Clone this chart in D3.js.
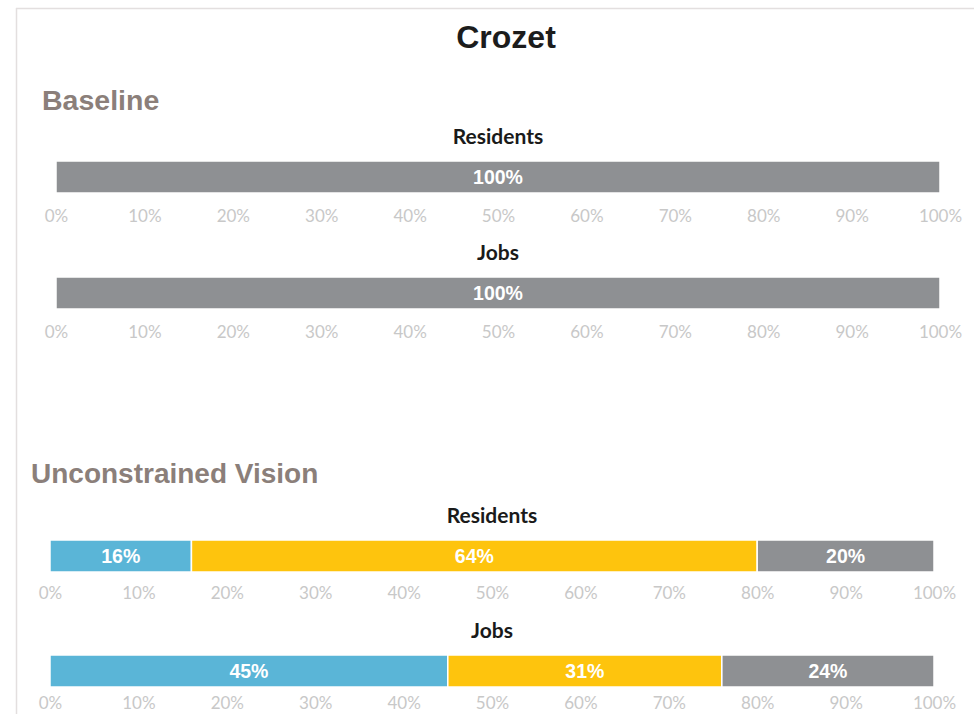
<!DOCTYPE html>
<html>
<head>
<meta charset="utf-8">
<script src="https://cdn.jsdelivr.net/npm/d3@7"></script>
<style>
  html, body { margin: 0; padding: 0; background: #ffffff; }
  svg { display: block; }
</style>
</head>
<body>
<script>
// Share of residents and jobs by area type, per scenario
const scenarios = ["Baseline", "Unconstrained Vision"];
const measures = ["Residents", "Jobs"];
const segmentNames = ["Centers", "Corridors", "Remainder"];
const baselineResidents = [0, 0, 100];
const baselineJobs = [0, 0, 100];
const visionResidents = [16, 64, 20];
const visionJobs = [45, 31, 24];
const tickValues = [0, 10, 20, 30, 40, 50, 60, 70, 80, 90, 100];
const tickLabels = ["0%", "10%", "20%", "30%", "40%", "50%", "60%", "70%", "80%", "90%", "100%"];
const chartTitle = "Crozet";

const segmentColors = ["#5ab5d7", "#fec40d", "#8e9093"];

const W = 974, H = 714;
const svg = d3.select("body").append("svg").attr("width", W).attr("height", H);

// light frame along top and left
svg.append("line").attr("x1", 16).attr("x2", W).attr("y1", 8.5).attr("y2", 8.5)
  .attr("stroke", "#e3dfdf").attr("stroke-width", 1.5);
svg.append("line").attr("x1", 16.5).attr("x2", 16.5).attr("y1", 8).attr("y2", H)
  .attr("stroke", "#e3dfdf").attr("stroke-width", 1.5);

const headFont = "'Liberation Sans Narrow', 'Arial Narrow', 'Liberation Sans', sans-serif";

svg.append("text").attr("x", 506).attr("y", 48)
  .attr("text-anchor", "middle")
  .style("font-family", headFont).style("font-size", "32px").style("font-weight", "bold")
  .style("fill", "#1c1c1c").text(chartTitle);

const panels = [
  { name: scenarios[0], data: [baselineResidents, baselineJobs], headX: 42, headY: 110, headSize: 28.5, range: [56, 940], barTops: [161, 277], tickGaps: [29, 29] },
  { name: scenarios[1], data: [visionResidents, visionJobs], headX: 31, headY: 483, headSize: 28, range: [50, 934], barTops: [540, 655], tickGaps: [27, 22] }
];

const barH = 32;

panels.forEach(p => {
  const x = d3.scaleLinear().domain([0, 100]).range(p.range);
  const cx = (p.range[0] + p.range[1]) / 2;

  svg.append("text").attr("x", p.headX).attr("y", p.headY)
    .style("font-family", headFont).style("font-size", p.headSize + "px").style("font-weight", "bold")
    .style("fill", "#8b7f7a").text(p.name);

  p.data.forEach((vals, i) => {
    const top = p.barTops[i];
    const g = svg.append("g");

    g.append("text").attr("x", cx).attr("y", top - 17)
      .attr("text-anchor", "middle")
      .style("font-family", "Lato, 'Open Sans', sans-serif").style("font-size", "21px").style("font-weight", "bold")
      .style("fill", "#1a1a1a").text(measures[i]);

    // stacked segments
    let acc = 0;
    const segs = vals.map((v, k) => { const s = { k, v, start: acc }; acc += v; return s; })
      .filter(s => s.v > 0);

    g.selectAll("rect.seg").data(segs).join("rect")
      .attr("class", "seg")
      .attr("x", s => x(s.start))
      .attr("y", top)
      .attr("width", s => x(s.start + s.v) - x(s.start))
      .attr("height", barH)
      .attr("fill", s => segmentColors[s.k])
      .attr("stroke", "#ffffff").attr("stroke-width", 1.5);

    g.selectAll("text.val").data(segs).join("text")
      .attr("class", "val")
      .attr("x", s => x(s.start + s.v / 2))
      .attr("y", top + barH / 2 + 7)
      .attr("text-anchor", "middle")
      .style("font-family", "'Liberation Sans', Arial, sans-serif").style("font-size", "19.5px").style("font-weight", "bold")
      .style("fill", "#ffffff").text(s => s.v + "%");

    // percentage axis under the bar
    const axis = d3.axisBottom(x).tickValues(tickValues).tickSize(0)
      .tickFormat((d, j) => tickLabels[j]);
    const ag = g.append("g").attr("transform", `translate(0,${top + barH + p.tickGaps[i]})`).call(axis);
    ag.select(".domain").remove();
    ag.selectAll("text")
      .attr("dy", null).attr("y", 0)
      .style("font-family", "Lato, 'Open Sans', sans-serif").style("font-size", "17px")
      .style("fill", "#c8c8c8");
  });
});
</script>
</body>
</html>
